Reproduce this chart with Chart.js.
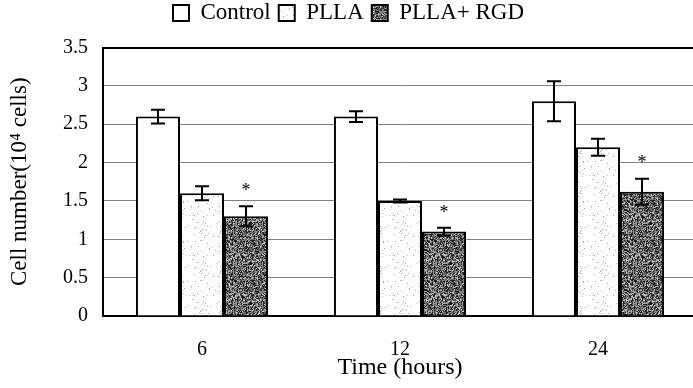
<!DOCTYPE html>
<html lang="en">
<head>
  <meta charset="UTF-8" />
  <title>Cell number over time</title>
  <script src="https://cdn.jsdelivr.net/npm/chart.js"></script>
  <style>
    body {
      margin: 0;
      background: #fff;
      overflow: hidden;
    }

    .chart-box {
      width: 700px;
      height: 388px;
    }
  </style>
</head>
<body>
  <div class="chart-box">
    <canvas id="cellChart"></canvas>
  </div>

  <script>
    // hours after seeding
    const timePoints = ['6', '12', '24'];

    // cell counts (x10^4) and their error
    const controlValues = [2.6, 2.6, 2.8];
    const controlErr = [0.09, 0.07, 0.26];
    const pllaValues = [1.6, 1.5, 2.2];
    const pllaErr = [0.09, 0.02, 0.11];
    const rgdValues = [1.3, 1.1, 1.62];
    const rgdErr = [0.13, 0.05, 0.17];

    // significance marks over the PLLA+RGD bars
    const rgdMarks = ['*', '*', '*'];

    const yTicks = [0, 0.5, 1, 1.5, 2, 2.5, 3, 3.5];

    // small fixed hash so the bar textures look the same every load
    function hash(x, y, s) {
      let h = (x * 374761393 + y * 668265263 + s * 982451653) | 0;
      h = Math.imul(h ^ (h >>> 13), 1274126177);
      h = h ^ (h >>> 16);
      return (h >>> 0) / 4294967295;
    }

    function texture(size, seed, shade) {
      const c = document.createElement('canvas');
      c.width = size;
      c.height = size;
      const g = c.getContext('2d');
      const img = g.createImageData(size, size);
      for (let y = 0; y < size; y++) {
        for (let x = 0; x < size; x++) {
          const v = shade(hash(x, y, seed));
          const i = (y * size + x) * 4;
          img.data[i] = img.data[i + 1] = img.data[i + 2] = v;
          img.data[i + 3] = 255;
        }
      }
      g.putImageData(img, 0, 0);
      return g.createPattern(c, 'repeat');
    }

    // light stipple: mostly white with a few grey specks
    const pllaFill = texture(40, 7, r => (r < 0.045 ? 150 + Math.floor(r * 1200) : 255));
    // dark grain: mixed black and grey pixels
    const rgdFill = texture(40, 3, r => (r < 0.33 ? 30 : r < 0.66 ? 100 : r < 0.88 ? 155 : 210));

    const errors = [controlErr, pllaErr, rgdErr];

    const errorBars = {
      id: 'errorBars',
      afterLayout(chart) {
        // pull the legend row up to the top edge
        const lg = chart.legend;
        lg.top -= 13;
        lg.bottom -= 13;
      },
      afterDatasetsDraw(chart) {
        const ctx = chart.ctx;
        const y = chart.scales.y;
        ctx.save();
        ctx.strokeStyle = '#000';
        ctx.lineWidth = 2;
        chart.data.datasets.forEach((ds, d) => {
          const meta = chart.getDatasetMeta(d);
          meta.data.forEach((bar, i) => {
            const v = ds.data[i];
            const e = errors[d][i];
            const top = y.getPixelForValue(v + e);
            const bot = y.getPixelForValue(v - e);
            const x = bar.x;
            ctx.beginPath();
            ctx.moveTo(x, top);
            ctx.lineTo(x, bot);
            ctx.moveTo(x - 7, top);
            ctx.lineTo(x + 7, top);
            ctx.moveTo(x - 7, bot);
            ctx.lineTo(x + 7, bot);
            ctx.stroke();
            if (d === 2 && rgdMarks[i]) {
              ctx.fillStyle = '#000';
              ctx.font = '18px "Liberation Serif"';
              ctx.textAlign = 'center';
              ctx.textBaseline = 'middle';
              ctx.fillText(rgdMarks[i], x, top - 15);
            }
          });
        });
        ctx.restore();
      }
    };

    const ctx = document.getElementById('cellChart').getContext('2d');
    const cellChart = new Chart(ctx, {
      type: 'bar',
      data: {
        labels: timePoints,
        datasets: [
          { label: 'Control', data: controlValues, backgroundColor: '#fff' },
          { label: 'PLLA', data: pllaValues, backgroundColor: pllaFill },
          { label: 'PLLA+ RGD', data: rgdValues, backgroundColor: rgdFill }
        ]
      },
      options: {
        responsive: true,
        maintainAspectRatio: false,
        animation: false,
        layout: { padding: { top: 6.5, right: 3, left: 0, bottom: 0 } },
        datasets: {
          bar: {
            borderColor: '#000',
            borderWidth: 2,
            categoryPercentage: 0.667,
            barPercentage: 1
          }
        },
        plugins: {
          tooltip: { enabled: false },
          legend: {
            position: 'top',
            labels: {
              color: '#000',
              boxWidth: 16,
              boxHeight: 16,
              padding: 8,
              font: { family: 'Liberation Serif', size: 23 }
            }
          }
        },
        scales: {
          x: {
            afterFit(scale) { scale.height = 72; },
            grid: { display: false },
            border: { display: true, color: '#000', width: 2 },
            ticks: {
              color: '#000',
              padding: 14,
              font: { family: 'Liberation Serif', size: 20 }
            },
            title: {
              display: true,
              text: 'Time (hours)',
              color: '#000',
              padding: { top: 0, bottom: 6 },
              font: { family: 'Liberation Serif', size: 24 }
            }
          },
          y: {
            min: 0,
            max: 3.5,
            afterFit(scale) { scale.width = 103; },
            afterBuildTicks(scale) {
              scale.ticks = yTicks.map(v => ({ value: v }));
            },
            grid: {
              drawTicks: false,
              color: c => (c.tick && c.tick.value === 3.5 ? '#000' : '#808080'),
              lineWidth: c => (c.tick && c.tick.value === 3.5 ? 2 : 1)
            },
            border: { display: true, color: '#000', width: 2 },
            ticks: {
              color: '#000',
              padding: 15,
              font: { family: 'Liberation Serif', size: 20 },
              callback: v => String(v)
            },
            title: {
              display: true,
              text: 'Cell number(10\u2074 cells)',
              color: '#000',
              padding: { top: 6, bottom: 0 },
              font: { family: 'Liberation Serif', size: 23 }
            }
          }
        }
      },
      plugins: [errorBars]
    });
  </script>
</body>
</html>
